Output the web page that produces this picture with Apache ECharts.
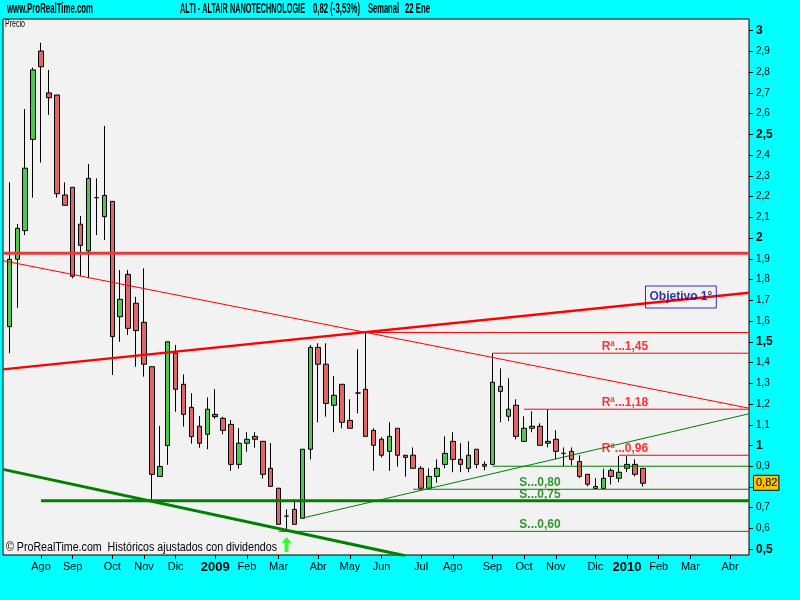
<!DOCTYPE html>
<html>
<head>
<meta charset="utf-8">
<title>ALTI - ALTAIR NANOTECHNOLOGIE</title>
<script src="https://cdn.jsdelivr.net/npm/echarts@6/dist/echarts.min.js"></script>
<style>
html, body { margin: 0; padding: 0; background: #00ffff; }
#chart { width: 800px; height: 600px; }
</style>
</head>
<body>
<div id="chart"></div>
<script>
// velas semanales desde el 7 jul 2008 (indice 0) hasta el 18 ene 2010 (indice 80)
const opens = [
    1.573, 1.898, 2.036, 2.476, 2.902, 2.700, 2.690, 2.208, 2.245, 2.067,
    1.938, 2.195, 2.103, 2.177, 1.621, 1.825, 1.686, 1.594, 1.380, 0.851,
    1.000, 1.446, 1.295, 1.184, 1.093, 1.054, 1.150, 1.131, 1.102, 0.909,
    1.011, 1.044, 1.020, 0.890, 0.794, 0.659, 0.692, 0.649, 0.982, 1.473,
    1.392, 1.194, 1.295, 1.121, 1.253, 1.271, 1.073, 1.030, 0.972, 1.083,
    0.953, 0.953, 0.890, 0.794, 0.851, 0.909, 1.020, 0.933, 0.890, 0.982,
    0.900, 0.909, 1.261, 1.141, 1.194, 1.020, 1.093, 1.093, 1.011, 1.030,
    0.962, 0.972, 0.923, 0.861, 0.793, 0.793, 0.880, 0.842, 0.890, 0.909,
    0.890
];
const closes = [
    1.898, 2.047, 2.337, 2.811, 2.826, 2.677, 2.214, 2.158, 1.816, 1.965,
    2.288, 2.195, 2.206, 1.525, 1.705, 1.565, 1.554, 1.392, 0.861, 0.899,
    1.500, 1.271, 1.150, 1.043, 1.011, 1.175, 1.139, 1.073, 0.909, 1.011,
    1.030, 1.030, 0.861, 0.803, 0.620, 0.659, 0.620, 0.982, 1.473, 1.392,
    1.203, 1.242, 1.112, 1.083, 1.253, 1.044, 1.001, 0.953, 1.044, 0.953,
    0.943, 0.890, 0.794, 0.851, 0.890, 0.962, 0.933, 0.909, 0.953, 0.909,
    0.909, 1.305, 1.285, 1.175, 1.044, 1.083, 1.083, 1.001, 1.020, 0.972,
    0.962, 0.933, 0.851, 0.813, 0.802, 0.842, 0.851, 0.871, 0.909, 0.861,
    0.818
];
const lows = [
    1.445, 1.664, 2.015, 2.195, 2.364, 2.594, 2.195, 2.158, 1.806, 1.817,
    1.806, 2.015, 1.991, 1.340, 1.500, 1.533, 1.380, 1.332, 0.737, 0.851,
    0.907, 1.163, 1.091, 1.009, 0.989, 0.982, 1.129, 1.054, 0.878, 0.888,
    0.970, 0.989, 0.840, 0.803, 0.620, 0.588, 0.620, 0.649, 0.933, 1.112,
    1.139, 1.064, 1.083, 1.083, 1.155, 1.044, 0.878, 0.943, 0.878, 0.898,
    0.850, 0.890, 0.782, 0.794, 0.821, 0.890, 0.871, 0.871, 0.871, 0.890,
    0.880, 0.909, 1.112, 1.117, 1.030, 1.020, 1.064, 1.001, 0.991, 0.933,
    0.900, 0.905, 0.842, 0.803, 0.793, 0.793, 0.812, 0.823, 0.871, 0.851,
    0.802
];
const highs = [
    2.269, 2.068, 2.622, 2.822, 2.942, 2.811, 2.690, 2.269, 2.245, 2.107,
    2.357, 2.288, 2.541, 2.177, 1.846, 1.846, 1.717, 1.854, 1.380, 1.094,
    1.500, 1.485, 1.343, 1.252, 1.142, 1.232, 1.272, 1.139, 1.123, 1.084,
    1.064, 1.064, 1.020, 1.011, 0.794, 0.692, 0.741, 0.982, 1.485, 1.493,
    1.493, 1.335, 1.295, 1.223, 1.464, 1.544, 1.083, 1.040, 1.112, 1.083,
    0.953, 0.991, 0.900, 0.890, 0.933, 1.044, 1.064, 1.011, 1.020, 0.982,
    0.924, 1.445, 1.372, 1.324, 1.223, 1.141, 1.165, 1.107, 1.175, 1.073,
    0.991, 0.991, 0.953, 0.861, 0.842, 0.888, 0.890, 0.949, 0.949, 0.933,
    0.890
];

// meses en el eje horizontal (indice de la semana)
const monthIdx = [4, 8, 13, 17, 21, 26, 30, 34, 39, 43, 47, 52, 56, 61, 65, 69, 74, 78, 82, 86, 91];
const monthLabels = ['Ago', 'Sep', 'Oct', 'Nov', 'Dic', '2009', 'Feb', 'Mar', 'Abr', 'May', 'Jun',
    'Jul', 'Ago', 'Sep', 'Oct', 'Nov', 'Dic', '2010', 'Feb', 'Mar', 'Abr'];

const yTicks = [0.5, 0.6, 0.7, 0.8, 0.9, 1, 1.1, 1.2, 1.3, 1.4, 1.5, 1.6, 1.7, 1.8, 1.9,
    2, 2.1, 2.2, 2.3, 2.4, 2.5, 2.6, 2.7, 2.8, 2.9, 3];
const yBold = [0.5, 1, 1.5, 2, 2.5, 3];
const yHidden = [0.8]; // tapado por la etiqueta del precio

// niveles horizontales: valor y semana donde empiezan
const resistLevels = [1.545, 1.445, 1.175, 0.953];
const resistFrom = [45, 61, 65, 77];
const supportLevels = [0.900, 0.789, 0.586];
const supportFrom = [61, 51, 34];
const topLevel = 1.927;
const mainSupport = 0.734;
const mainSupportFrom = 4;

// lineas de tendencia [x1, y1, x2, y2]
const redTrends = [
    [-0.8, 1.891, 93.4, 1.180],
    [-0.8, 1.367, 93.4, 1.737]
];
const greenTrends = [
    [-0.8, 0.885, 50, 0.468],
    [37, 0.650, 93.4, 1.153]
];

const resistNotes = ['Rª...1,45', 'Rª...1,18', 'Rª...0,96'];
const resistNoteAt = [[74.8, 1.475], [74.8, 1.205], [74.8, 0.983]];
const supportNotes = ['S...0,80', 'S...0,75', 'S...0,60'];
const supportNoteAt = [[64.4, 0.819], [64.4, 0.761], [64.4, 0.617]];
const targetNote = 'Objetivo 1°';
const targetAt = [84.8, 1.716];
const arrowAt = [35, 0.523];

const X_MIN = -0.8, X_MAX = 93.4;
const RED = '#ff0000';
const GREEN = '#008000';
const SANS = '"Liberation Sans", Arial, sans-serif';

function segment(x1, y1, x2, y2, color, width) {
    return {
        type: 'line',
        data: [[x1, y1], [x2, y2]],
        symbol: 'none',
        silent: true,
        z: 3,
        lineStyle: { color: color, width: width }
    };
}

// textos de cabecera: la fuente original es muy estrecha, se comprime en horizontal
const measureCtx = document.createElement('canvas').getContext('2d');
function fitText(text, left, midY, width, font) {
    measureCtx.font = font;
    const w = measureCtx.measureText(text).width;
    return {
        type: 'text',
        x: left,
        y: midY,
        scaleX: width / w,
        silent: true,
        style: { text: text, font: font, fill: '#000', verticalAlign: 'middle', textVerticalAlign: 'middle' }
    };
}

const candles = opens.map((o, i) => [i, o, closes[i], lows[i], highs[i]]);
const lastClose = closes[closes.length - 1];

const series = [{
    type: 'candlestick',
    data: candles,
    encode: { x: 0, y: [1, 2, 3, 4] },
    barWidth: 5,
    itemStyle: {
        color: '#50c850',
        color0: '#e06666',
        borderColor: '#000',
        borderColor0: '#000',
        borderColorDoji: '#000',
        borderWidth: 1
    },
    markLine: {
        silent: true,
        symbol: ['none', 'none'],
        lineStyle: { color: 'transparent', width: 0 },
        label: {
            show: true,
            position: 'end',
            distance: 5,
            formatter: lastClose.toFixed(2).replace('.', ','),
            backgroundColor: '#ffc000',
            borderColor: '#000',
            borderWidth: 1,
            padding: [2, 1, 1, 2],
            color: '#000',
            fontSize: 11,
            fontFamily: SANS
        },
        data: [{ yAxis: lastClose }]
    }
}];

series.push(segment(X_MIN, topLevel, X_MAX, topLevel, '#e83a3a', 3));
resistLevels.forEach((v, i) => series.push(segment(resistFrom[i], v, X_MAX, v, RED, 1)));
supportLevels.forEach((v, i) => series.push(segment(supportFrom[i], v, X_MAX, v, GREEN, 1)));
series.push(segment(mainSupportFrom, mainSupport, X_MAX, mainSupport, GREEN, 3));
series.push(segment(...redTrends[0], RED, 1));
series.push(segment(...redTrends[1], RED, 2.5));
series.push(segment(...greenTrends[0], GREEN, 3));
series.push(segment(...greenTrends[1], GREEN, 1));

// textos de los niveles
function notes(texts, at, color) {
    return {
        type: 'scatter',
        silent: true,
        symbolSize: 0,
        z: 5,
        data: texts.map((t, i) => ({ value: at[i], name: t })),
        label: {
            show: true,
            position: 'right',
            distance: 0,
            formatter: '{b}',
            color: color,
            fontWeight: 'bold',
            fontSize: 12,
            fontFamily: SANS
        }
    };
}
series.push(notes(resistNotes, resistNoteAt, RED));
series.push(notes(supportNotes, supportNoteAt, GREEN));

series.push({
    type: 'scatter',
    silent: true,
    symbolSize: 0,
    z: 5,
    data: [{ value: targetAt, name: targetNote }],
    label: {
        show: true,
        position: 'inside',
        formatter: '{b}',
        color: '#000090',
        fontWeight: 'bold',
        fontSize: 12,
        fontFamily: SANS,
        borderColor: '#0000a0',
        borderWidth: 1,
        padding: [5, 4, 5, 4]
    }
});

series.push({
    type: 'scatter',
    silent: true,
    z: 6,
    data: [arrowAt],
    symbol: 'path://M5,0 L10,6 L7,6 L7,15 L3,15 L3,6 L0,6 Z',
    symbolSize: [10, 15],
    itemStyle: { color: '#00ff00' }
});

const HEAD = 'bold 14px "Liberation Sans"';

const chart = echarts.init(document.getElementById('chart'));

chart.setOption({
    animation: false,
    backgroundColor: '#00ffff',
    textStyle: { fontFamily: SANS },
    graphic: [
        fitText('www.ProRealTime.com', 7, 9.5, 86, HEAD),
        fitText('ALTI - ALTAIR NANOTECHNOLOGIE', 180, 9.5, 125, HEAD),
        fitText('0,82 (-3,53%)', 313, 9.5, 47, HEAD),
        fitText('Semanal', 368, 9.5, 31, HEAD),
        fitText('22 Ene', 405, 9.5, 25, HEAD),
        fitText('Precio', 5, 24.5, 20, '10px "Liberation Sans"'),
        fitText('© ProRealTime.com  Históricos ajustados con dividendos', 6, 548, 271, '12px "Liberation Sans"')
    ],
    grid: {
        left: 3, right: 51, top: 19, bottom: 45,
        show: true,
        backgroundColor: '#f2f2f2',
        borderColor: '#000',
        borderWidth: 1,
        outerBoundsMode: 'none'
    },
    xAxis: {
        type: 'value',
        min: X_MIN,
        max: X_MAX,
        axisLine: { show: false, onZero: false },
        splitLine: { show: false },
        axisTick: {
            show: true,
            length: 4,
            customValues: monthIdx,
            lineStyle: { color: '#000' }
        },
        axisLabel: {
            customValues: monthIdx,
            margin: 6,
            color: '#000',
            fontSize: 11,
            formatter: function (v) {
                const s = monthLabels[monthIdx.indexOf(v)] || '';
                return /^\d{4}$/.test(s) ? '{b|' + s + '}' : s;
            },
            rich: { b: { fontWeight: 'bold', fontSize: 13, color: '#000' } }
        }
    },
    yAxis: {
        type: 'value',
        position: 'right',
        min: 0.472,
        max: 3.0564,
        axisLine: { show: false, onZero: false },
        splitLine: { show: false },
        axisTick: {
            show: true,
            length: 4,
            customValues: yTicks,
            lineStyle: { color: '#000' }
        },
        axisLabel: {
            customValues: yTicks.filter(v => yHidden.indexOf(v) < 0),
            margin: 7,
            color: '#000',
            fontSize: 10,
            formatter: function (v) {
                const s = String(v).replace('.', ',');
                return yBold.indexOf(v) >= 0 ? '{b|' + s + '}' : s;
            },
            rich: { b: { fontWeight: 'bold', fontSize: 12, color: '#000' } }
        }
    },
    series: series
});
</script>
</body>
</html>
